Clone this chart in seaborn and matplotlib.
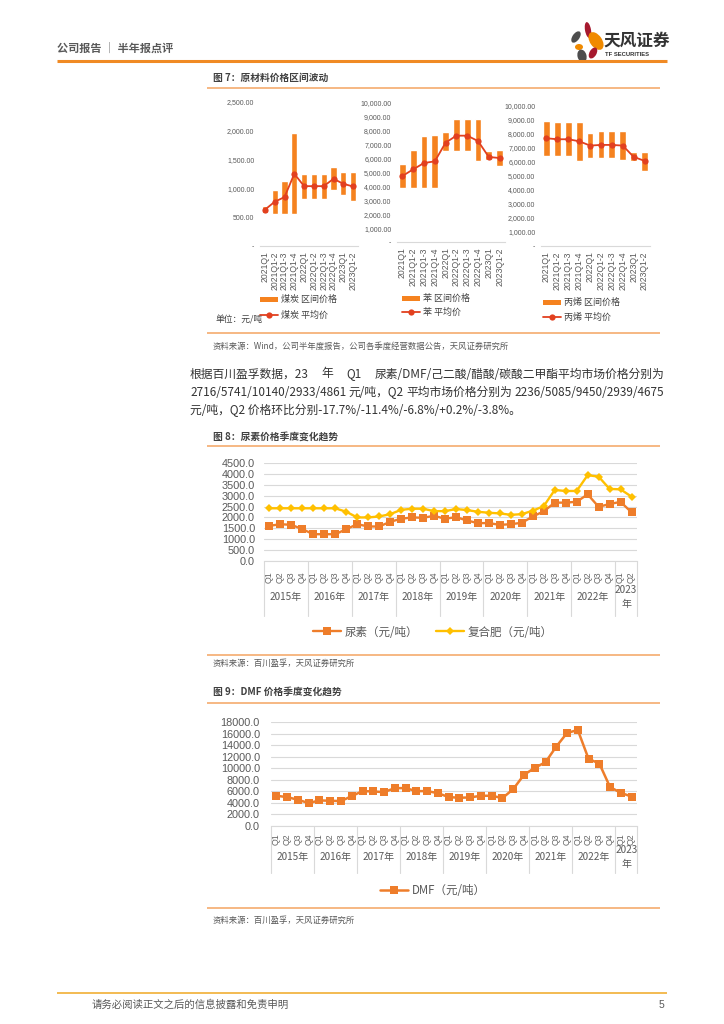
import matplotlib
matplotlib.use("Agg")
import matplotlib.pyplot as plt
import matplotlib.transforms as mtransforms
from matplotlib.patches import Rectangle, Ellipse
from matplotlib.ticker import FuncFormatter
import seaborn as sns
import numpy as np
import pandas as pd

W, H = 724, 1024

# 图7 原材料价格区间（元/吨）
period_lbl = ["2021Q1", "2021Q1-2", "2021Q1-3", "2021Q1-4", "2022Q1",
              "2022Q1-2", "2022Q1-3", "2022Q1-4", "2023Q1", "2023Q1-2"]
coal_low = [580, 555, 555, 555, 814, 814, 814, 964, 877, 774]
coal_high = [687, 964, 1126, 1957, 1253, 1253, 1253, 1380, 1282, 1282]
coal_avg = [630, 768, 849, 1253, 1039, 1039, 1039, 1166, 1080, 1033]
benz_low = [3885, 3885, 3885, 3885, 6547, 6547, 6547, 5827, 5875, 5444]
benz_high = [5636, 6595, 7602, 7722, 7890, 8825, 8825, 8825, 6523, 6643]
benz_avg = [4748, 5228, 5683, 5803, 7146, 7650, 7650, 7266, 6115, 6043]
prop_low = [6437, 6437, 6437, 6080, 6270, 6270, 6270, 6175, 6057, 5344]
prop_high = [8955, 8860, 8860, 8860, 8100, 8195, 8195, 8195, 6746, 6746]
prop_avg = [7696, 7625, 7625, 7482, 7173, 7220, 7220, 7173, 6366, 6081]

# 图8 / 图9 季度价格（元/吨）
year_lbl = ["2015年", "2016年", "2017年", "2018年", "2019年",
            "2020年", "2021年", "2022年", "2023\n年"]
quarter_lbl = ["Q1", "Q2", "Q3", "Q4"] * 8 + ["Q1", "Q2"]
urea = [1615, 1690, 1660, 1460, 1230, 1230, 1230, 1460, 1690, 1585, 1585, 1800,
        1940, 2000, 1985, 2075, 1940, 2015, 1860, 1740, 1740, 1660, 1690, 1755,
        2045, 2280, 2680, 2680, 2720, 3060, 2490, 2615, 2716, 2236]
npk = [2420, 2420, 2420, 2420, 2420, 2420, 2420, 2260, 2000, 2000, 2045, 2150,
       2350, 2400, 2400, 2290, 2290, 2385, 2340, 2260, 2215, 2185, 2120, 2150,
       2310, 2520, 3260, 3215, 3215, 3940, 3875, 3310, 3290, 2955]
dmf = [5233, 5003, 4543, 3968, 4428, 4370, 4313, 5175, 6038, 5980, 5865, 6555,
       6555, 6038, 6038, 5693, 5003, 4888, 4945, 5233, 5233, 4830, 6383, 8856,
       10063, 11040, 13744, 16101, 16619, 11616, 10811, 6728, 5741, 5085]

BAR = "#F5821F"
RED = "#E2401F"
ORANGE = "#EE7D2A"
GOLD = "#FFC000"
GRID = "#D9D9D9"
TXT = "#595959"
NUM = ["Liberation Sans", "Noto Sans CJK SC"]

sns.set_theme(style="white")
plt.rcParams["font.family"] = ["Noto Sans CJK SC", "DejaVu Sans"]
plt.rcParams["axes.unicode_minus"] = False

fig = plt.figure(figsize=(W / 100, H / 100), dpi=100)
fig.patch.set_facecolor("white")
pg = fig.add_axes([0, 0, 1, 1])
pg.set_xlim(0, W)
pg.set_ylim(H, 0)
pg.axis("off")


def box(x0, y0, x1, y1):
    return [x0 / W, 1 - y1 / H, (x1 - x0) / W, (y1 - y0) / H]


def rule(y, x0=207, x1=660, color="#F6B27A", lw=1.3):
    pg.plot([x0, x1], [y, y], color=color, lw=lw, solid_capstyle="butt")


# header
pg.text(57, 48, "公司报告 │ 半年报点评", fontsize=8, color=TXT, va="center", fontweight="bold")
rule(61, 57, 667, "#F08A24", 2.2)
for (cx, cy, w, h, a, c) in [(588, 30, 6, 16, -10, "#A6192E"), (576, 37, 7, 13, 35, "#4D4D4D"),
                             (596, 41, 12, 20, -35, "#F08A00"), (579, 47, 8, 6, 0, "#F08A00"),
                             (582, 56, 9, 13, -15, "#4D4D4D"), (593, 53, 7, 12, 30, "#A6192E")]:
    pg.add_patch(Ellipse((cx, cy), w, h, angle=a, color=c, lw=0))
pg.text(603, 41, "天风证券", fontsize=12, fontweight="bold", color="#333333", va="center")
pg.text(605, 55, "TF SECURITIES", fontsize=4.2, fontweight="bold", color="#333333", va="center",
        family=NUM)

# 图7
pg.text(213, 78, "图 7：原材料价格区间波动", fontsize=7, fontweight="bold", color="#404040", va="center")
rule(88)


def range_chart(rect, low, high, avg, ymax, step, name, leg_x, leg_y1, leg_y2):
    ax = fig.add_axes(box(*rect))
    ax.set_facecolor("none")
    df = pd.DataFrame({"p": period_lbl, "span": np.array(high) - np.array(low), "avg": avg})
    sns.barplot(data=df, x="p", y="span", bottom=np.array(low), color=BAR, width=0.62,
                saturation=1, errorbar=None, ax=ax)
    sns.lineplot(x=np.arange(len(avg)), y=df["avg"], color=RED, marker="o", markersize=4.5,
                 markeredgewidth=0, linewidth=1.3, ax=ax)
    ax.set_ylim(0, ymax)
    ax.set_xlim(-0.5, len(avg) - 0.5)
    ax.set_yticks(np.arange(0, ymax + 1, step))
    ax.yaxis.set_major_formatter(FuncFormatter(lambda v, p: "-" if v == 0 else f"{v:,.2f}"))
    ax.set_xticks(range(len(avg)))
    ax.set_xticklabels(period_lbl, rotation=90, fontsize=6.2, family=NUM, color=TXT)
    for lab in ax.get_yticklabels():
        lab.set_fontsize(5)
        lab.set_family(NUM)
        lab.set_color(TXT)
    for s in ["top", "right", "left"]:
        ax.spines[s].set_visible(False)
    ax.spines["bottom"].set_color(GRID)
    ax.spines["bottom"].set_linewidth(0.8)
    ax.tick_params(length=0, pad=4)
    ax.set_xlabel("")
    ax.set_ylabel("")
    # legend
    pg.add_patch(Rectangle((leg_x, leg_y1 - 2.5), 18, 5, color=BAR, lw=0))
    pg.text(leg_x + 21, leg_y1, name + " 区间价格", fontsize=6.5, color="#404040", va="center")
    pg.plot([leg_x, leg_x + 18], [leg_y2, leg_y2], color=RED, lw=1.3)
    pg.plot([leg_x + 9], [leg_y2], "o", color=RED, ms=4.5, mew=0)
    pg.text(leg_x + 21, leg_y2, name + " 平均价", fontsize=6.5, color="#404040", va="center")
    return ax


range_chart((260, 102, 358, 246), coal_low, coal_high, coal_avg, 2500, 500, "煤炭", 260, 299, 315)
range_chart((397, 103, 505, 242), benz_low, benz_high, benz_avg, 10000, 1000, "苯", 402, 298, 312)
range_chart((541, 106, 650, 246), prop_low, prop_high, prop_avg, 10000, 1000, "丙烯", 543, 302, 317)
pg.text(215, 320, "单位：元/吨", fontsize=6.3, color="#404040", va="center")
rule(333)
pg.text(213, 346, "资料来源：Wind，公司半年度报告，公司各季度经营数据公告，天风证券研究所",
        fontsize=6, color=TXT, va="center")

# paragraph
renderer = fig.canvas.get_renderer()


def justify(tokens, y, x0=190, x1=664, **kw):
    arts = [pg.text(0, y, t, va="center", **kw) for t in tokens]
    widths = [a.get_window_extent(renderer).width for a in arts]
    gap = (x1 - x0 - sum(widths)) / (len(tokens) - 1)
    x = x0
    for a, w in zip(arts, widths):
        a.set_x(x)
        x += w + gap


PARA = dict(fontsize=8.5, color="#333333")
justify(["根据百川盈孚数据，23", "年", "Q1", "尿素/DMF/己二酸/醋酸/碳酸二甲酯平均市场价格分别为"], 374, **PARA)
justify(["2716/5741/10140/2933/4861", "元/吨，Q2", "平均市场价格分别为", "2236/5085/9450/2939/4675"], 392, **PARA)
pg.text(190, 410, "元/吨，Q2 价格环比分别-17.7%/-11.4%/-6.8%/+0.2%/-3.8%。", va="center", **PARA)


def quarter_chart(rect, series, ymax, step, axis_y, sep_y, q_y, yr_y, leg_y, pad):
    ax = fig.add_axes(box(*rect))
    ax.set_facecolor("none")
    x = np.arange(len(quarter_lbl))
    for vals, color, marker, ms, lw, label in series:
        sns.lineplot(x=x, y=vals, color=color, marker=marker, markersize=ms, markeredgewidth=0,
                     linewidth=lw, label=label, ax=ax)
    ax.set_ylim(0, ymax)
    ax.set_xlim(-0.5, len(x) - 0.5)
    ax.set_yticks(np.arange(0, ymax + 1, step))
    ax.yaxis.set_major_formatter(FuncFormatter(lambda v, p: f"{v:.1f}"))
    ax.set_xticks([])
    ax.yaxis.grid(True, color=GRID, lw=0.8)
    ax.xaxis.grid(False)
    for s in ["top", "right", "left"]:
        ax.spines[s].set_visible(False)
    ax.spines["bottom"].set_color(GRID)
    ax.spines["bottom"].set_linewidth(0.8)
    ax.tick_params(axis="y", length=0, pad=pad, labelsize=7.8, labelcolor=TXT)
    for lab in ax.get_yticklabels():
        lab.set_family(NUM)
    trans = mtransforms.blended_transform_factory(ax.transData, pg.transData)
    for i, q in enumerate(quarter_lbl):
        ax.text(i, q_y, q, transform=trans, rotation=90, ha="center", va="center",
                fontsize=6.3, color="#666666", family=NUM)
    bounds = list(np.arange(-0.5, len(x), 4)) + [len(x) - 0.5]
    for b in bounds:
        ax.plot([b, b], [axis_y, sep_y], transform=trans, color=GRID, lw=0.8, clip_on=False)
    for k, yl in enumerate(year_lbl):
        c = (bounds[k] + bounds[k + 1]) / 2
        ax.text(c, yr_y, yl, transform=trans, ha="center", va="center", fontsize=7.2,
                color=TXT, linespacing=1.4)
    h, l = ax.get_legend_handles_labels()
    ax.legend(h, l, loc="center", bbox_to_anchor=(433 / W, 1 - leg_y / H),
              bbox_transform=fig.transFigure, ncol=len(h), frameon=False, fontsize=8.3,
              handlelength=2.4, columnspacing=1.6, handletextpad=0.3, labelcolor=TXT)
    ax.set_xlabel("")
    ax.set_ylabel("")
    return ax


# 图8
pg.text(213, 437, "图 8：尿素价格季度变化趋势", fontsize=7, fontweight="bold", color="#404040", va="center")
rule(446)
quarter_chart((264, 463, 637, 561),
              [(urea, ORANGE, "s", 5.2, 1.7, "尿素（元/吨）"),
               (npk, GOLD, "D", 4.0, 1.7, "复合肥（元/吨）")],
              4500, 500, 561, 616, 577, 597, 632, 6.5)
rule(655)
pg.text(213, 663, "资料来源：百川盈孚，天风证券研究所", fontsize=6, color=TXT, va="center")

# 图9
pg.text(213, 692, "图 9：DMF 价格季度变化趋势", fontsize=7, fontweight="bold", color="#404040", va="center")
rule(703)
quarter_chart((271, 722, 637, 826),
              [(dmf, ORANGE, "s", 5.4, 1.8, "DMF（元/吨）")],
              18000, 2000, 826, 873, 839, 857, 891, 8)
rule(908)
pg.text(213, 920, "资料来源：百川盈孚，天风证券研究所", fontsize=6, color=TXT, va="center")

# footer
rule(993, 57, 667, "#F2B544", 1.3)
pg.text(92, 1005, "请务必阅读正文之后的信息披露和免责申明", fontsize=7.5, color=TXT, va="center")
pg.text(664, 1005, "5", fontsize=7.5, color=TXT, va="center", ha="right", family=NUM)

fig.savefig("out.png", dpi=100)
